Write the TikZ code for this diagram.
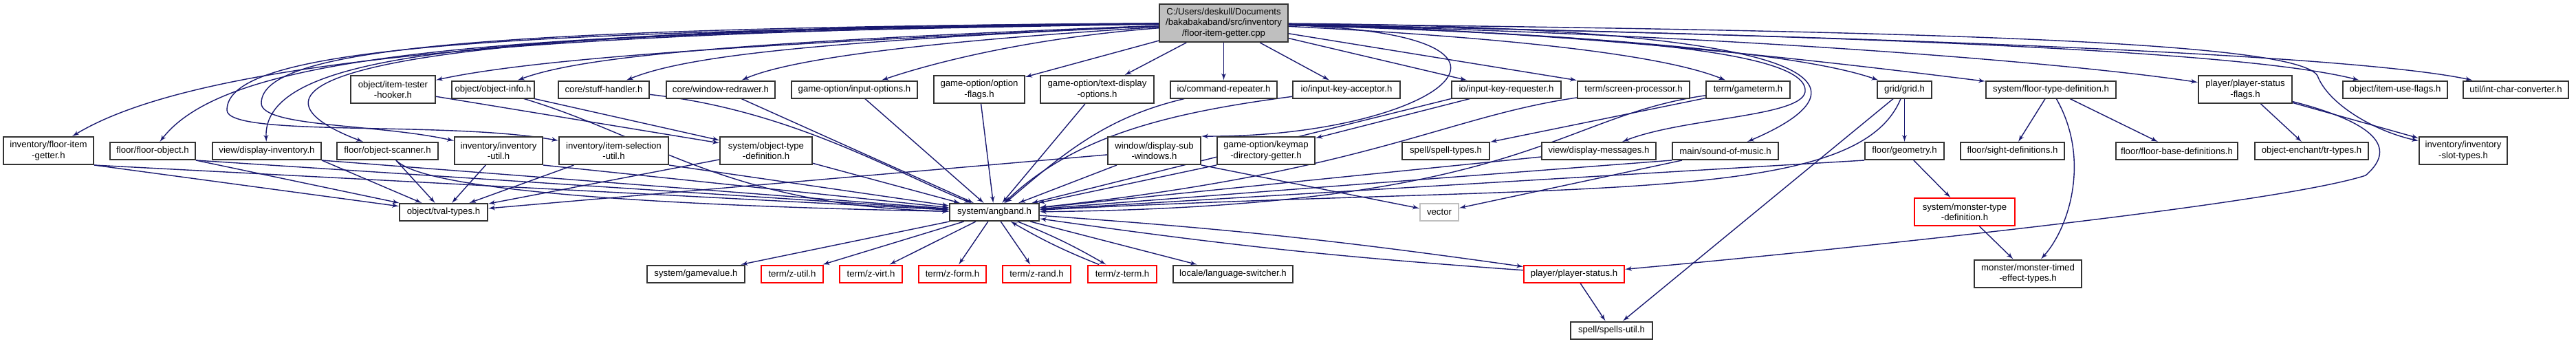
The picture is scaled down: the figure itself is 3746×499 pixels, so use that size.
\documentclass[tikz,border=0pt]{standalone}
\usepackage{fontspec}
\setmainfont{Liberation Sans}
\usepackage{tikz}
\usetikzlibrary{shapes, arrows, positioning, backgrounds}
\definecolor{edgeblue}{HTML}{191970}

\begin{document}
\begin{tikzpicture}[x=0.5pt, y=-0.5pt, auto,
    box/.style={rectangle, draw=black!80, fill=white, line width=1pt, inner sep=1pt, minimum height=12.5pt, align=center, font=\fontsize{6.6}{7.6}\selectfont},
    tall/.style={minimum height=20pt},
    bw/.style={minimum width=#1*0.5pt},
    trunc/.style={box, draw=red},
    ext/.style={box, draw=black!25},
    rootbox/.style={box, fill=black!25, minimum height=27.5pt},
    line/.style={draw=edgeblue, line width=0.7pt, -latex'}]

    \useasboundingbox (0,0) rectangle (3746,499);

    \node [rootbox, bw=187] (root) at (1779.5,33.5) {C:/Users/deskull/Documents\\/bakabakaband/src/inventory\\/floor-item-getter.cpp};

    \node [box, tall, bw=123] (hooker) at (571.5,130) {object/item-tester\\-hooker.h};
    \node [box, bw=120] (objinfo) at (717,130) {object/object-info.h};
    \node [box, bw=132] (stuff) at (878,130) {core/stuff-handler.h};
    \node [box, bw=158] (redraw) at (1048,130) {core/window-redrawer.h};
    \node [box, bw=183] (inputopt) at (1242.5,130) {game-option/input-options.h};
    \node [box, tall, bw=132] (optflags) at (1424,130) {game-option/option\\-flags.h};
    \node [box, tall, bw=165] (textdisp) at (1595.5,130) {game-option/text-display\\-options.h};
    \node [box, bw=155] (cmdrep) at (1779.5,130) {io/command-repeater.h};
    \node [box, bw=156] (keyacc) at (1958,130) {io/input-key-acceptor.h};
    \node [box, bw=159] (keyreq) at (2190.5,130) {io/input-key-requester.h};
    \node [box, bw=163] (screenproc) at (2375.5,130) {term/screen-processor.h};
    \node [box, bw=122] (gameterm) at (2542,130) {term/gameterm.h};
    \node [box, bw=79] (grid) at (2769.5,130) {grid/grid.h};
    \node [box, bw=189] (floortype) at (2982.5,130) {system/floor-type-definition.h};
    \node [box, tall, bw=136] (pstatflags) at (3265,130) {player/player-status\\-flags.h};
    \node [box, bw=152] (itemuse) at (3483,130) {object/item-use-flags.h};
    \node [box, bw=153] (intchar) at (3658.5,130) {util/int-char-converter.h};

    \node [box, tall, bw=131] (fig) at (70.5,219) {inventory/floor-item\\-getter.h};
    \node [box, bw=124] (floorobj) at (222,219.5) {floor/floor-object.h};
    \node [box, bw=158] (dispinv) at (388,219.5) {view/display-inventory.h};
    \node [box, bw=147] (objscan) at (563.5,219.5) {floor/object-scanner.h};
    \node [box, tall, bw=128] (invutil) at (725,219) {inventory/inventory\\-util.h};
    \node [box, tall, bw=159] (itemsel) at (892.5,219) {inventory/item-selection\\-util.h};
    \node [box, tall, bw=134] (objtype) at (1114,219) {system/object-type\\-definition.h};
    \node [box, tall, bw=135] (subwin) at (1678.5,219) {window/display-sub\\-windows.h};
    \node [box, tall, bw=142] (keymap) at (1841,219) {game-option/keymap\\-directory-getter.h};
    \node [box, bw=127] (spelltypes) at (2102.5,219.5) {spell/spell-types.h};
    \node [box, bw=166] (dispmsg) at (2325,219.5) {view/display-messages.h};
    \node [box, bw=154] (music) at (2509,219.5) {main/sound-of-music.h};
    \node [box, bw=115] (geometry) at (2769.5,219.5) {floor/geometry.h};
    \node [box, bw=151] (sightdef) at (2926.5,219.5) {floor/sight-definitions.h};
    \node [box, bw=177] (floorbase) at (3165.5,219.5) {floor/floor-base-definitions.h};
    \node [box, bw=165] (trtypes) at (3361.5,219.5) {object-enchant/tr-types.h};
    \node [box, tall, bw=128] (slottypes) at (3582,219) {inventory/inventory\\-slot-types.h};

    \node [box, bw=128] (tval) at (645,308.5) {object/tval-types.h};
    \node [box, bw=130] (angband) at (1446,308.5) {system/angband.h};
    \node [ext, bw=56] (vector) at (2093,308.5) {vector};
    \node [trunc, tall, bw=146] (monstertype) at (2857,308) {system/monster-type\\-definition.h};

    \node [box, bw=142] (gamevalue) at (1012,398) {system/gamevalue.h};
    \node [trunc, bw=90] (zutil) at (1152,398) {term/z-util.h};
    \node [trunc, bw=91] (zvirt) at (1266.5,398) {term/z-virt.h};
    \node [trunc, bw=98] (zform) at (1385,398) {term/z-form.h};
    \node [trunc, bw=99] (zrand) at (1507.5,398) {term/z-rand.h};
    \node [trunc, bw=100] (zterm) at (1632,398) {term/z-term.h};
    \node [box, bw=174] (langsw) at (1793,398) {locale/language-switcher.h};
    \node [trunc, bw=146] (pstatus) at (2289,398) {player/player-status.h};
    \node [box, tall, bw=156] (mtimed) at (2949,397.5) {monster/monster-timed\\-effect-types.h};

    \node [box, bw=119] (spellsutil) at (2343.5,480) {spell/spells-util.h};

    \begin{scope}[on background layer]
    \fill [white] (0,0) rectangle (3746,499);

    \path [line] (root) .. controls (850,45) and (300,80) .. (fig);
    \path [line] (root) .. controls (700,45) and (330,80) .. (floorobj);
    \path [line] (root) .. controls (800,50) and (380,60) .. (dispinv);
    \path [line] (root) .. controls (300,40) and (380,150) .. (objscan);
    \path [line] (root) .. controls (700,40) and (380,70) .. (380,150) .. controls (380,185) and (550,180) .. (invutil);
    \path [line] (root) .. controls (700,45) and (330,70) .. (330,160) .. controls (330,200) and (650,175) .. (itemsel);
    \path [line] (root) .. controls (1200,60) and (800,80) .. (hooker);
    \path [line] (root) .. controls (1100,60) and (850,80) .. (objinfo);
    \path [line] (root) .. controls (1200,60) and (1000,80) .. (stuff);
    \path [line] (root) .. controls (1350,60) and (1150,85) .. (redraw);
    \path [line] (root) .. controls (1500,55) and (1360,90) .. (inputopt);
    \path [line] (root) -- (optflags);
    \path [line] (root) -- (textdisp);
    \path [line] (root) -- (cmdrep);
    \path [line] (root) -- (keyacc);
    \path [line] (root) -- (keyreq);
    \path [line] (root) -- (screenproc);
    \path [line] (root) .. controls (2200,55) and (2420,80) .. (gameterm);
    \path [line] (root) .. controls (2200,45) and (2600,70) .. (grid);
    \path [line] (root) .. controls (2300,45) and (2700,95) .. (floortype);
    \path [line] (root) .. controls (2500,50) and (3000,90) .. (pstatflags);
    \path [line] (root) .. controls (2600,50) and (3250,70) .. (itemuse);
    \path [line] (root) .. controls (2600,50) and (3400,75) .. (intchar);
    \path [line] (root) .. controls (2800,45) and (3340,60) .. (3370,110) .. controls (3385,150) and (3450,190) .. (slottypes);
    \path [line] (root) .. controls (2700,40) and (2720,130) .. (music);
    \path [line] (root) .. controls (2300,50) and (2620,70) .. (2625,130) .. controls (2630,170) and (2450,170) .. (dispmsg);
    \path [line] (root) .. controls (2300,50) and (2080,200) .. (subwin.north east);

    \path [line] (fig.south east) -- (tval);
    \path [line] (fig.south east) -- (angband);
    \path [line] (floorobj.south east) -- (tval);
    \path [line] (floorobj.south east) -- (angband);
    \path [line] (dispinv.south east) -- (tval);
    \path [line] (dispinv.south east) -- (angband);
    \path [line] (objscan) -- (tval);
    \path [line] (objscan) .. controls (620,280) and (1000,300) .. (angband);
    \path [line] (invutil) -- (tval);
    \path [line] (invutil.south east) -- (angband);
    \path [line] (itemsel) -- (tval);
    \path [line] (itemsel.south east) -- (angband);
    \path [line] (objtype) -- (tval);
    \path [line] (objtype) -- (angband);
    \path [line] (hooker) -- (objtype);
    \path [line] (objinfo) -- (objtype);
    \path [line] (objinfo) .. controls (950,200) and (1060,300) .. (angband);
    \path [line] (stuff) .. controls (1150,160) and (1300,250) .. (angband);
    \path [line] (redraw) -- (angband);
    \path [line] (inputopt) -- (angband);
    \path [line] (optflags) -- (angband);
    \path [line] (textdisp) -- (angband);
    \path [line] (cmdrep) .. controls (1610,170) and (1550,220) .. (angband);
    \path [line] (keyacc) .. controls (1690,165) and (1560,200) .. (angband);
    \path [line] (keyreq) -- (keymap);
    \path [line] (keyreq.south west) -- (angband);
    \path [line] (screenproc) .. controls (2100,170) and (1990,250) .. (angband);
    \path [line] (gameterm) -- (spelltypes);
    \path [line] (gameterm) .. controls (2260,170) and (2220,300) .. (angband);
    \path [line] (subwin) -- (tval);
    \path [line] (subwin) -- (angband);
    \path [line] (subwin.south east) -- (vector);
    \path [line] (keymap.south west) -- (angband);
    \path [line] (dispmsg) -- (angband);
    \path [line] (music.south west) -- (angband);
    \path [line] (music) -- (vector);
    \path [line] (grid) .. controls (2700,300) and (2300,265) .. (angband);
    \path [line] (grid) -- (geometry);
    \path [line] (grid) -- (spellsutil);
    \path [line] (geometry.south west) -- (angband);
    \path [line] (geometry) -- (monstertype);
    \path [line] (monstertype) -- (mtimed);
    \path [line] (floortype) -- (sightdef);
    \path [line] (floortype) -- (floorbase);
    \path [line] (floortype) .. controls (3040,230) and (3010,330) .. (mtimed);
    \path [line] (pstatflags) -- (trtypes);
    \path [line] (pstatflags) -- (slottypes);
    \path [line] (pstatflags) .. controls (3480,185) and (3475,225) .. (3440,255) .. controls (3300,300) and (2600,370) .. (pstatus);

    \path [line] (angband) -- (gamevalue);
    \path [line] (angband) -- (zutil);
    \path [line] (angband) -- (zvirt);
    \path [line] (angband) -- (zform);
    \path [line] (angband) -- (zrand);
    \path [line] (angband) to[bend left=4] (zterm);
    \path [line] (zterm) to[bend left=4] (angband);
    \path [line] (angband) -- (langsw);
    \path [line] (angband) to[bend left=2] (pstatus);
    \path [line] (pstatus) to[bend left=2] (angband);
    \path [line] (pstatus) -- (spellsutil);
    \end{scope}

\end{tikzpicture}
\end{document}
